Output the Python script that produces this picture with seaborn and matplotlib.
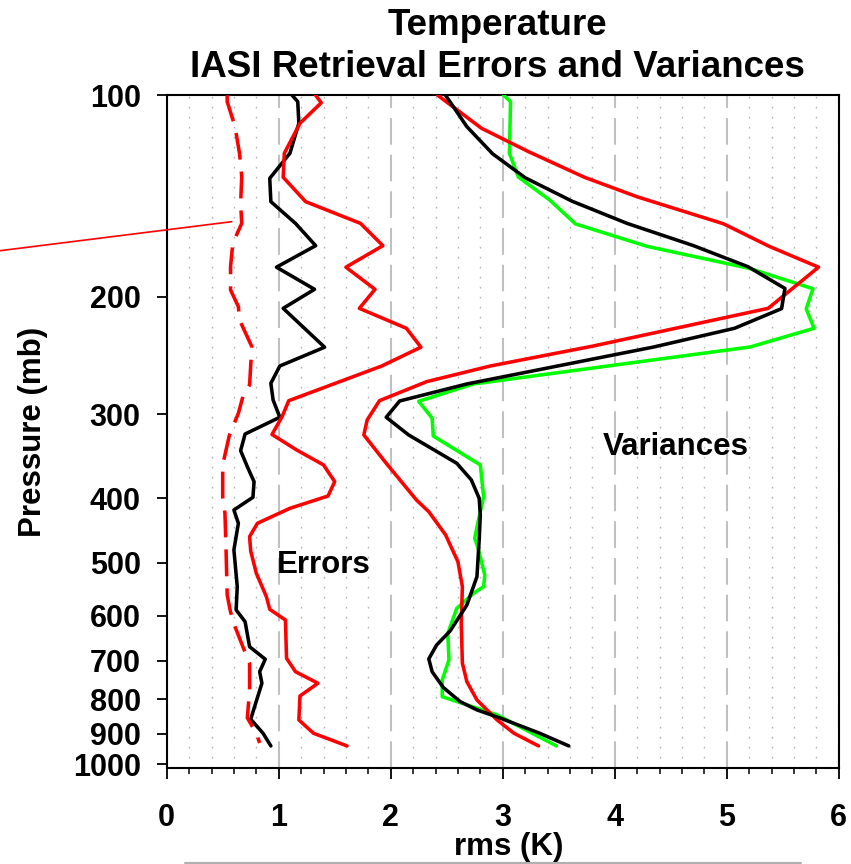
import numpy as np
import pandas as pd
import matplotlib
matplotlib.use("Agg")
import matplotlib.pyplot as plt
import seaborn as sns
from matplotlib.ticker import FixedLocator, FixedFormatter, MultipleLocator, NullLocator
from matplotlib.lines import Line2D

# ---------------- data ----------------
title_line1 = "Temperature"
title_line2 = "IASI Retrieval Errors and Variances"
x_label = "rms (K)"
y_label = "Pressure (mb)"

y_ticks = [100, 200, 300, 400, 500, 600, 700, 800, 900, 1000]
y_tick_labels = ["100", "200", "300", "400", "500", "600", "700", "800", "900", "1000"]
x_ticks = [0, 1, 2, 3, 4, 5, 6]

# Errors: black solid
err_black_p = [100, 102.2, 110.1, 122.1, 133.1, 144.2, 155.4, 167.8, 180.7, 195.0,
               208.2, 238.0, 253.9, 269.5, 285.4, 302.9, 320.9, 339.8, 359.1, 378.1,
               399.0, 416.8, 436.3, 478.3, 542.6, 588.0, 612.2, 667.3, 696.6, 727.3,
               756.7, 856.4, 898.8, 938.9]
err_black_x = [1.12, 1.17, 1.18, 1.10, 0.92, 0.93, 1.15, 1.33, 0.98, 1.32,
               1.04, 1.41, 1.01, 0.93, 0.95, 1.01, 0.70, 0.66, 0.72, 0.78,
               0.77, 0.60, 0.64, 0.60, 0.63, 0.62, 0.70, 0.74, 0.88, 0.83,
               0.85, 0.75, 0.86, 0.93]

# Errors: red solid
err_red_p = [100, 102.6, 110.1, 122.1, 132.6, 144.2, 155.4, 167.8, 180.7, 195.0,
             208.2, 223.0, 238.0, 253.9, 286.1, 302.3, 321.4, 339.0, 356.9, 378.1,
             397.2, 414.4, 436.3, 456.8, 480.0, 518.2, 561.7, 586.7, 608.7, 694.4,
             727.3, 756.7, 790.6, 858.6, 898.8, 938.9]
err_red_x = [1.33, 1.38, 1.19, 1.05, 1.04, 1.24, 1.73, 1.93, 1.60, 1.86,
             1.72, 2.14, 2.27, 1.92, 1.09, 1.03, 0.94, 1.16, 1.40, 1.50,
             1.44, 1.10, 0.81, 0.74, 0.75, 0.80, 0.89, 0.92, 1.06, 1.07,
             1.15, 1.35, 1.19, 1.18, 1.31, 1.61]

# Errors: red dashed
err_dash_p = [100, 102.2, 111.4, 122.1, 132.3, 145.0, 155.4, 166.4, 180.4, 195.4,
              207.0, 216.7, 237.5, 271.0, 282.2, 298.8, 322.0, 356.9, 398.6, 421.5,
              478.3, 558.4, 592.0, 622.9, 667.3, 706.3, 774.4, 852.6, 898.8, 929.4]
err_dash_x = [0.54, 0.54, 0.61, 0.65, 0.67, 0.66, 0.67, 0.59, 0.57, 0.57,
              0.64, 0.65, 0.76, 0.74, 0.68, 0.64, 0.56, 0.50, 0.50, 0.52,
              0.53, 0.54, 0.57, 0.61, 0.68, 0.74, 0.74, 0.72, 0.80, 0.83]

# Variances: red
var_red_p = [100, 112.0, 121.4, 132.6, 141.8, 155.6, 168.2, 180.7, 208.2, 237.0,
             253.9, 268.0, 286.1, 305.7, 321.9, 354.9, 402.7, 419.3, 454.1, 498.0,
             542.6, 615.6, 706.3, 752.6, 801.5, 858.6, 898.8, 938.9]
var_red_x = [2.42, 2.81, 3.23, 3.73, 4.20, 4.97, 5.38, 5.82, 5.37, 3.81,
             2.89, 2.32, 1.90, 1.79, 1.76, 1.96, 2.23, 2.34, 2.49, 2.60,
             2.64, 2.63, 2.64, 2.68, 2.77, 2.95, 3.10, 3.32]

# Variances: black
var_black_p = [100, 111.4, 122.3, 132.8, 144.0, 155.4, 167.7, 180.4, 194.4, 208.4,
               223.0, 237.8, 270.1, 286.4, 302.9, 321.9, 354.9, 375.8, 400.4, 424.0,
               462.0, 524.3, 578.1, 632.2, 663.4, 695.9, 727.3, 767.9, 806.1, 829.4,
               853.4, 898.8, 938.9]
var_black_x = [2.49, 2.68, 2.91, 3.20, 3.62, 4.11, 4.70, 5.19, 5.52, 5.49,
               5.07, 4.35, 2.68, 2.08, 1.96, 2.16, 2.59, 2.72, 2.79, 2.80,
               2.79, 2.77, 2.68, 2.53, 2.41, 2.34, 2.37, 2.47, 2.62, 2.77,
               2.98, 3.33, 3.59]

# Variances: green
var_green_p = [100, 102.2, 122.1, 132.5, 143.4, 155.7, 168.2, 181.4, 194.6, 208.6,
               223.0, 237.8, 270.1, 286.7, 303.9, 323.1, 356.9, 398.6, 434.0, 459.4,
               475.5, 521.2, 542.6, 555.2, 584.7, 637.3, 698.3, 748.2, 792.5, 843.9,
               938.9]
var_green_x = [3.01, 3.07, 3.06, 3.14, 3.42, 3.65, 4.29, 5.20, 5.77, 5.71,
               5.78, 5.21, 2.74, 2.25, 2.37, 2.38, 2.80, 2.83, 2.78, 2.75,
               2.78, 2.84, 2.83, 2.74, 2.59, 2.51, 2.52, 2.46, 2.46, 2.95,
               3.48]

# annotation pointer target (on dashed curve)
pointer_x, pointer_p = 0.58, 154.5

errors_label = ("Errors", 0.98, 518)
variances_label = ("Variances", 3.89, 345)

# ---------------- styling ----------------
sns.set_style("ticks")
plt.rcParams['font.family'] = ['Liberation Sans', 'DejaVu Sans']
plt.rcParams['font.weight'] = 'bold'
for key in ['text.color', 'axes.labelcolor', 'xtick.color', 'ytick.color',
            'axes.edgecolor']:
    plt.rcParams[key] = 'black'

W, H = 851, 864
fig = plt.figure(figsize=(W / 100, H / 100), dpi=100)
ax_l, ax_r, ax_t, ax_b = 166.7, 838.7, 95.3, 767.7
ax = fig.add_axes([ax_l / W, 1 - ax_b / H, (ax_r - ax_l) / W, (ax_b - ax_t) / H])

series = [
    ("var_green", var_green_x, var_green_p, "#00ff00", "-"),
    ("var_red", var_red_x, var_red_p, "#ff0000", "-"),
    ("var_black", var_black_x, var_black_p, "#000000", "-"),
    ("err_black", err_black_x, err_black_p, "#000000", "-"),
    ("err_red", err_red_x, err_red_p, "#ff0000", "-"),
    ("err_dash", err_dash_x, err_dash_p, "#ff0000", (0, (7.6, 3.4))),
]

for name, xs, ps, col, ls in series:
    df = pd.DataFrame({"rms": xs, "pressure": ps})
    sns.lineplot(data=df, x="rms", y="pressure", sort=False, estimator=None,
                 color=col, linewidth=2.55, linestyle=ls, ax=ax, zorder=3)

ax.set_yscale("log")
ax.set_ylim(1012, 100)
ax.set_xlim(0, 6)
ax.yaxis.set_major_locator(FixedLocator(y_ticks))
ax.yaxis.set_major_formatter(FixedFormatter(y_tick_labels))
ax.yaxis.set_minor_locator(NullLocator())
ax.xaxis.set_major_locator(FixedLocator(x_ticks))
ax.xaxis.set_minor_locator(MultipleLocator(0.2))

ax.set_axisbelow(True)
ax.grid(True, which="major", axis="x", color="#c0c0c0", linewidth=1.5,
        linestyle=(0, (12.8, 4.8)))
ax.grid(True, which="minor", axis="x", color="#b4b4b4", linewidth=1.0,
        linestyle=(0, (1.2, 6.0)))
ax.grid(False, axis="y")

for sp in ax.spines.values():
    sp.set_visible(True)
    sp.set_color("black")
    sp.set_linewidth(1.5)

ax.tick_params(axis="y", which="major", direction="out", length=7.2, width=1.3,
               pad=11.5, labelsize=22, left=True, right=False, colors="black")
ax.tick_params(axis="x", which="major", direction="out", length=7.7, width=1.3,
               pad=17.5, labelsize=22, bottom=True, top=False, colors="black")
ax.tick_params(axis="x", which="minor", direction="out", length=4.0, width=1.1,
               bottom=True, top=False, colors="black")
for lab in ax.get_xticklabels() + ax.get_yticklabels():
    lab.set_fontweight("bold")

ax.set_xlabel(x_label, fontsize=22.5, fontweight="bold", color="black")
ax.xaxis.set_label_coords(0.509, -0.0952)
ax.set_ylabel(y_label, fontsize=22.5, fontweight="bold", color="black")
ax.yaxis.set_label_coords(-0.1762, 0.5)

ax.text(errors_label[1], errors_label[2], errors_label[0], fontsize=22.5,
        fontweight="bold", ha="left", va="baseline", zorder=4, color="black")
ax.text(variances_label[1], variances_label[2], variances_label[0], fontsize=22.5,
        fontweight="bold", ha="left", va="baseline", zorder=4, color="black")

# pointer line from outside the axes to the dashed curve
ax.annotate("", xy=(pointer_x, pointer_p), xycoords="data",
            xytext=(0.0, 1 - 250.7 / H), textcoords="figure fraction",
            arrowprops=dict(arrowstyle="-", color="#ff0000", lw=1.2,
                            shrinkA=0, shrinkB=0),
            annotation_clip=False)

fig.text(497 / W, 1 - 35 / H, title_line1, ha="center", va="baseline",
         fontsize=26.5, fontweight="bold", color="black")
fig.text(497 / W, 1 - 77.3 / H, title_line2, ha="center", va="baseline",
         fontsize=26.5, fontweight="bold", color="black")

# thin grey rule at the very bottom
fig.add_artist(Line2D([185 / W, 801 / W], [1 - 863 / H, 1 - 863 / H],
                      color="#b0b0b0", linewidth=1.5))

fig.savefig("out.png", dpi=100)
